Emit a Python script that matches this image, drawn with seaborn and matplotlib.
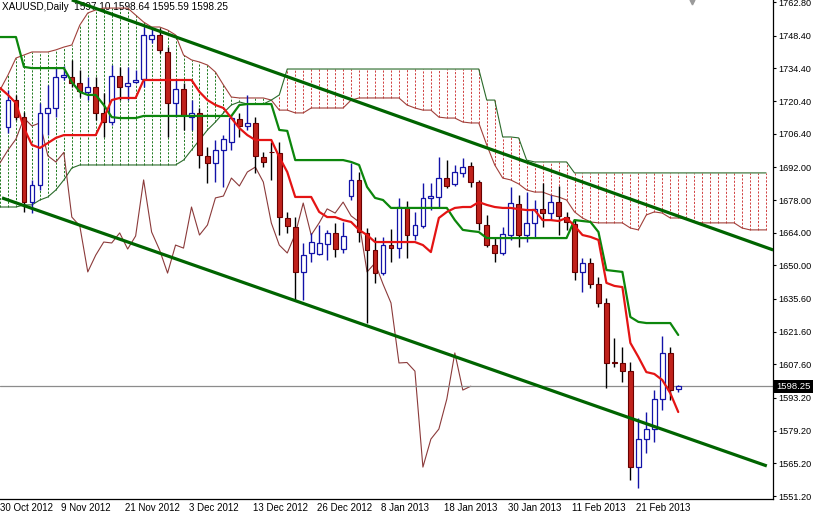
import matplotlib
matplotlib.use("Agg")
import matplotlib.pyplot as plt
from matplotlib.patches import Rectangle
from matplotlib.transforms import ScaledTranslation
import numpy as np
import pandas as pd
import seaborn as sns

# XAUUSD daily, bar 0 = 30 Oct 2012
bars = list(range(1, 86))
opens = [1709.3, 1720.8, 1713.6, 1677.1, 1684.4, 1715.3, 1717.4, 1730.7, 1730.7, 1728.1,
         1724.3, 1726.4, 1715.3, 1711.4, 1731.1, 1726.8, 1728.5, 1729.8, 1747.0, 1748.7,
         1741.4, 1719.5, 1725.5, 1713.6, 1715.3, 1696.9, 1693.9, 1699.4, 1702.8, 1712.7,
         1709.7, 1711.0, 1696.4, 1698.6, 1698.1, 1670.3, 1666.4, 1647.2, 1655.3, 1654.9,
         1659.2, 1663.9, 1657.0, 1679.7, 1686.6, 1663.9, 1656.6, 1646.7, 1658.7, 1657.4,
         1675.0, 1663.0, 1666.9, 1678.9, 1679.3, 1687.4, 1684.9, 1689.6, 1692.6, 1685.7,
         1667.3, 1658.7, 1655.3, 1663.0, 1676.3, 1663.0, 1668.2, 1674.2, 1672.4, 1677.1,
         1670.7, 1667.7, 1647.2, 1651.0, 1642.0, 1633.9, 1608.6, 1608.2, 1604.7, 1563.6,
         1575.6, 1579.9, 1592.8, 1612.5, 1597.10]
highs = [1725.1, 1723.0, 1715.7, 1686.6, 1719.5, 1727.3, 1735.0, 1735.4, 1738.0, 1733.7,
         1730.7, 1730.7, 1723.8, 1735.8, 1735.0, 1735.0, 1733.7, 1752.1, 1751.7, 1751.7,
         1743.5, 1729.4, 1728.1, 1720.8, 1717.4, 1700.7, 1703.7, 1705.8, 1714.4, 1715.3,
         1723.0, 1713.6, 1698.6, 1702.8, 1702.8, 1672.9, 1670.7, 1659.6, 1663.9, 1667.3,
         1665.2, 1668.2, 1668.6, 1693.9, 1690.0, 1666.0, 1662.2, 1662.2, 1665.6, 1678.9,
         1677.6, 1672.9, 1685.3, 1685.3, 1696.4, 1695.1, 1693.0, 1696.0, 1694.3, 1686.6,
         1671.6, 1662.2, 1666.4, 1683.6, 1680.1, 1681.4, 1678.0, 1685.3, 1680.1, 1684.0,
         1672.9, 1669.4, 1653.2, 1653.2, 1645.0, 1636.0, 1618.9, 1615.0, 1608.6, 1584.6,
         1587.2, 1596.6, 1619.8, 1615.0, 1598.64]
lows = [1706.7, 1712.3, 1672.9, 1672.4, 1682.3, 1705.8, 1713.6, 1729.4, 1726.4, 1722.1,
        1720.8, 1712.3, 1705.0, 1710.1, 1720.8, 1720.8, 1728.1, 1726.4, 1745.2, 1741.0,
        1705.0, 1713.6, 1708.0, 1708.0, 1691.7, 1685.3, 1685.7, 1683.6, 1699.4, 1705.0,
        1708.0, 1689.6, 1692.1, 1686.6, 1663.0, 1663.9, 1635.2, 1635.2, 1651.5, 1654.4,
        1652.3, 1653.6, 1655.3, 1678.0, 1660.0, 1625.3, 1642.5, 1645.9, 1651.5, 1653.2,
        1653.2, 1660.9, 1666.0, 1673.7, 1675.0, 1683.1, 1684.0, 1687.9, 1683.6, 1665.2,
        1657.9, 1651.5, 1654.4, 1660.9, 1657.9, 1660.0, 1661.7, 1666.4, 1669.4, 1663.0,
        1665.2, 1643.7, 1638.6, 1640.3, 1632.2, 1597.5, 1606.5, 1600.1, 1558.1, 1554.7,
        1569.6, 1574.4, 1588.1, 1592.3, 1595.59]
closes = [1720.8, 1713.6, 1677.1, 1684.4, 1715.3, 1717.4, 1730.7, 1731.5, 1728.1, 1724.7,
          1726.4, 1715.3, 1711.4, 1731.1, 1726.4, 1728.1, 1729.4, 1748.7, 1748.7, 1742.3,
          1719.5, 1725.5, 1714.4, 1715.3, 1697.3, 1693.9, 1699.4, 1704.1, 1713.1, 1709.7,
          1711.0, 1696.9, 1694.3, 1698.4, 1670.7, 1666.9, 1647.2, 1654.4, 1660.0, 1659.6,
          1663.9, 1657.0, 1662.6, 1686.6, 1664.3, 1656.6, 1646.7, 1658.7, 1657.4, 1675.0,
          1663.0, 1667.3, 1678.9, 1679.7, 1687.4, 1684.0, 1690.0, 1692.1, 1685.7, 1668.2,
          1658.7, 1655.3, 1663.4, 1676.7, 1663.0, 1668.2, 1674.2, 1672.4, 1677.1, 1671.2,
          1668.6, 1647.2, 1651.0, 1642.0, 1633.9, 1608.2, 1608.4, 1604.7, 1563.6, 1575.6,
          1579.9, 1592.8, 1612.5, 1596.6, 1598.25]

# Ichimoku lines, bars 0..85
line_bars = list(range(0, 86))
tenkan = [1726.0, 1723.0, 1719.5, 1708.8, 1701.6, 1700.3, 1702.4, 1704.6, 1705.8, 1705.8,
          1705.8, 1705.8, 1705.8, 1713.1, 1720.8, 1721.7, 1721.7, 1721.7, 1729.4, 1729.4,
          1729.4, 1729.4, 1729.4, 1729.4, 1729.4, 1724.3, 1720.8, 1718.7, 1717.4, 1713.1,
          1708.8, 1705.8, 1703.7, 1703.7, 1703.7, 1696.4, 1690.0, 1679.3, 1679.3, 1679.3,
          1672.9, 1670.7, 1670.7, 1669.4, 1668.6, 1665.2, 1663.0, 1660.0, 1660.0, 1660.0,
          1660.0, 1660.0, 1660.0, 1658.7, 1655.7, 1670.3, 1672.9, 1674.6, 1675.0, 1675.0,
          1677.1, 1675.9, 1675.0, 1674.6, 1674.6, 1674.1, 1673.7, 1673.7, 1669.4, 1669.4,
          1669.0, 1670.3, 1666.9, 1663.0, 1662.2, 1660.9, 1642.5, 1641.2, 1640.7, 1616.8,
          1610.8, 1604.3, 1603.5, 1600.9, 1595.3, 1587.2]
kijun = [1747.8, 1747.8, 1747.8, 1735.0, 1734.5, 1734.5, 1734.5, 1734.5, 1734.5, 1728.5,
         1724.3, 1723.0, 1723.0, 1718.7, 1713.5, 1713.1, 1713.1, 1713.1, 1714.0, 1714.0,
         1714.0, 1714.0, 1714.0, 1714.0, 1714.0, 1714.0, 1714.0, 1714.0, 1714.0, 1714.0,
         1718.7, 1719.1, 1719.1, 1719.1, 1719.1, 1708.0, 1707.6, 1695.1, 1695.1, 1695.1,
         1695.1, 1695.1, 1695.1, 1695.1, 1694.3, 1693.0, 1683.6, 1678.9, 1678.0, 1674.6,
         1674.6, 1674.6, 1674.6, 1674.6, 1674.6, 1674.6, 1674.6, 1669.4, 1665.2, 1664.7,
         1664.3, 1661.7, 1661.7, 1661.7, 1661.7, 1661.7, 1661.7, 1661.7, 1661.7, 1661.7,
         1661.7, 1661.7, 1669.4, 1669.0, 1668.6, 1664.3, 1648.0, 1647.6, 1647.2, 1627.9,
         1625.8, 1625.3, 1625.3, 1625.3, 1625.3, 1620.2]

# cloud edges, bars 0..96
cloud_bars = list(range(0, 97))
span_r = [1725.1, 1731.5, 1738.8, 1740.1, 1741.4, 1741.4, 1741.4, 1742.3, 1743.5, 1744.4,
          1752.9, 1758.1, 1759.4, 1760.2, 1760.2, 1760.2, 1760.2, 1757.2, 1754.2, 1752.1,
          1752.1, 1750.8, 1748.7, 1740.1, 1738.0, 1737.1, 1735.8, 1732.8, 1727.3, 1722.1,
          1721.7, 1721.7, 1721.7, 1721.7, 1720.8, 1716.5, 1716.5, 1715.3, 1715.3, 1717.4,
          1717.4, 1717.4, 1717.4, 1717.4, 1720.8, 1721.7, 1721.7, 1721.7, 1721.7, 1721.7,
          1721.7, 1718.7, 1717.4, 1716.5, 1716.5, 1713.5, 1713.1, 1713.1, 1711.4, 1711.0,
          1711.0, 1701.6, 1693.0, 1687.4, 1686.6, 1684.9, 1682.3, 1681.4, 1681.4, 1680.1,
          1679.3, 1678.0, 1672.9, 1670.3, 1668.6, 1668.2, 1668.2, 1668.2, 1668.2, 1666.0,
          1665.2, 1671.6, 1672.9, 1672.4, 1670.3, 1670.3, 1670.3, 1668.6, 1668.2, 1668.2,
          1668.2, 1668.2, 1668.2, 1666.0, 1665.2, 1665.2, 1665.2]
span_g = [1675.0, 1675.0, 1675.0, 1675.9, 1675.9, 1678.0, 1679.3, 1682.3, 1686.6, 1691.7,
          1693.0, 1693.0, 1693.0, 1693.0, 1693.0, 1693.0, 1693.0, 1693.0, 1693.0, 1693.0,
          1693.0, 1693.0, 1693.0, 1695.1, 1699.4, 1703.7, 1708.0, 1711.4, 1715.3, 1718.7,
          1720.0, 1719.1, 1719.1, 1719.1, 1720.8, 1723.0, 1734.1, 1734.1, 1734.1, 1734.1,
          1734.1, 1734.1, 1734.1, 1734.1, 1734.1, 1734.1, 1734.1, 1734.1, 1734.1, 1734.1,
          1734.1, 1734.1, 1734.1, 1734.1, 1734.1, 1734.1, 1734.1, 1734.1, 1734.1, 1734.1,
          1734.1, 1720.8, 1720.8, 1705.0, 1705.0, 1704.6, 1695.1, 1694.3, 1694.3, 1694.3,
          1694.3, 1694.3, 1689.6, 1689.6, 1689.6, 1689.6, 1689.6, 1689.6, 1689.6, 1689.6,
          1689.6, 1689.6, 1689.6, 1689.6, 1689.6, 1689.6, 1689.6, 1689.6, 1689.6, 1689.6,
          1689.6, 1689.6, 1689.6, 1689.6, 1689.6, 1689.6, 1689.6]

# channel lines (bar, price anchors)
upper_bars = [9.0, 96.9]
upper_prices = [1763.7, 1656.6]
lower_bars = [0.25, 96.1]
lower_prices = [1678.9, 1564.1]

last_price = 1598.25
header = "XAUUSD,Daily  1597.10 1598.64 1595.59 1598.25"
price_ticks = [1762.80, 1748.40, 1734.40, 1720.40, 1706.40, 1692.00, 1678.00, 1664.00,
               1650.00, 1635.60, 1621.60, 1607.60, 1593.20, 1579.20, 1565.20, 1551.20]
date_ticks = [0, 8, 16, 24, 32, 40, 48, 56, 64, 72, 80]
date_labels = ["30 Oct 2012", "9 Nov 2012", "21 Nov 2012", "3 Dec 2012", "13 Dec 2012",
               "26 Dec 2012", "8 Jan 2013", "18 Jan 2013", "30 Jan 2013", "11 Feb 2013",
               "21 Feb 2013"]

BLUE = "#1212a8"
RED_BODY = "#c0221c"
sns.set_style("white")
plt.rcParams['font.family'] = ['Liberation Sans', 'DejaVu Sans']

fig = plt.figure(figsize=(8.13, 5.15), dpi=100)
ax = fig.add_axes([0, 16 / 515, 773 / 813, 499 / 515])

df = pd.DataFrame({"bar": bars, "open": opens, "high": highs, "low": lows, "close": closes})
cloud = pd.DataFrame({"bar": cloud_bars, "r": span_r, "g": span_g})

# cloud hatch
bull = cloud[cloud.r >= cloud.g]
bear = cloud[cloud.r < cloud.g]
ax.vlines(bull.bar, bull.g, bull.r, colors="#1f7a1f", linestyles=(0, (2.2, 1.6)), lw=0.7, zorder=1)
ax.vlines(bear.bar, bear.r, bear.g, colors="#d04040", linestyles=(0, (2.2, 1.6)), lw=0.7, zorder=1)
sns.lineplot(data=cloud, x="bar", y="r", ax=ax, color="#a0403a", lw=0.8, zorder=2)
sns.lineplot(data=cloud, x="bar", y="g", ax=ax, color="#2a6a2a", lw=0.8, zorder=2)

# chikou: closes drawn 26 bars back
chikou = df[df.bar >= 26]
sns.lineplot(x=chikou.bar - 26, y=chikou.close, ax=ax, color="#8b3a3a", lw=0.8, zorder=2)

# candles
up = df[df.close >= df.open]
dn = df[df.close < df.open]
ax.vlines(up.bar, up.low, up.high, colors=BLUE, lw=1, zorder=3)
ax.vlines(dn.bar, dn.low, dn.high, colors="black", lw=1, zorder=3)
ax.bar(up.bar, up.close - up.open, bottom=up.open, width=0.6, facecolor="white",
       edgecolor=BLUE, lw=0.9, zorder=4)
ax.bar(dn.bar, dn.close - dn.open, bottom=dn.open, width=0.6, facecolor=RED_BODY,
       edgecolor="#6a0000", lw=0.8, zorder=4)

# tenkan / kijun
sns.lineplot(x=line_bars, y=kijun, ax=ax, color="#0c860c", lw=1.6, zorder=5)
sns.lineplot(x=line_bars, y=tenkan, ax=ax, color="#e41414", lw=1.6, zorder=5)

# channel
ax.plot(upper_bars, upper_prices, color="#006400", lw=2.3, zorder=6, solid_capstyle="butt")
ax.plot(lower_bars, lower_prices, color="#006400", lw=2.3, zorder=6, solid_capstyle="butt")

ax.axhline(last_price, color="#8c8c8c", lw=0.9, zorder=2)

ax.set_xlim(0.25, 96.875)
ax.set_ylim(1549.94, 1763.66)
ax.set_xlabel("")
ax.set_ylabel("")

for s in ["left", "top"]:
    ax.spines[s].set_visible(False)
for s in ["right", "bottom"]:
    ax.spines[s].set_color("black")
    ax.spines[s].set_linewidth(0.9)

ax.yaxis.tick_right()
ax.set_yticks(price_ticks)
ax.set_yticklabels([f"{p:.2f}" for p in price_ticks])
ax.tick_params(axis="y", direction="out", length=2.5, width=0.8, pad=1.2, labelsize=6.6,
               colors="black")
ax.set_xticks(date_ticks)
ax.set_xticklabels(date_labels, ha="left")
ax.tick_params(axis="x", direction="in", length=2, width=0.8, pad=3, labelsize=7, colors="black")
for k, lbl in enumerate(ax.get_xticklabels()):
    dx = 0.5 if k == 0 else -2.5
    lbl.set_transform(lbl.get_transform() + ScaledTranslation(dx / 100, 0, fig.dpi_scale_trans))

ax.text(0.003, 0.996, header, transform=ax.transAxes, ha="left", va="top", fontsize=7.2,
        color="black", zorder=1)
ax.plot([86.75], [1762.9], marker="v", color="#9a9a9a", ms=3.5, clip_on=False, zorder=7)

# last price tag
yfrac = ax.transData.transform((0, last_price))[1] / fig.bbox.height
fig.patches.append(Rectangle((774 / 813, yfrac - 6.5 / 515), 39 / 813, 13 / 515,
                             transform=fig.transFigure, facecolor="black", edgecolor="none",
                             zorder=10))
fig.text(776 / 813, yfrac, "1598.25", color="white", fontsize=6.8, va="center", ha="left",
         zorder=11)

fig.savefig("out.png", dpi=100)
